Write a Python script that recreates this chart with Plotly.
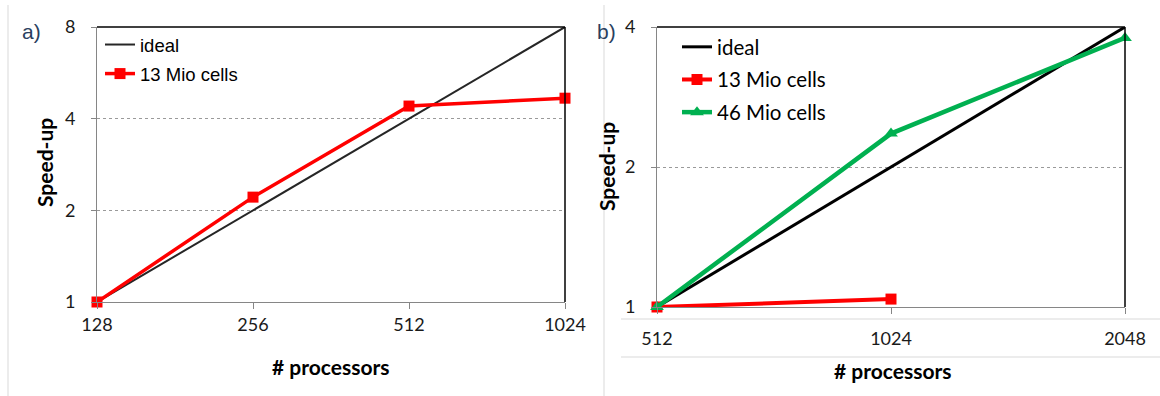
import math
import plotly.graph_objects as go

# ---- data -------------------------------------------------------------
procs_a = [128, 256, 512, 1024]
ideal_a = [1, 2, 4, 8]
mio13_a = [1, 2.21, 4.40, 4.67]

procs_b = [512, 1024, 2048]
ideal_b = [1, 2, 4]
mio13_procs_b = [512, 1024]
mio13_b = [1, 1.04]
mio46_b = [1, 2.36, 3.79]

ticks_a = [128, 256, 512, 1024]
ticks_b = [512, 1024, 2048]
yticks_a = [1, 2, 4, 8]
yticks_b = [1, 2, 4]

W, H = 1160, 396
RED = "#ff0000"
GREEN = "#00b050"
AXIS_GRAY = "#868686"
FRAME_GRAY = "#d9d9d9"
TICK_FONT = dict(family="Lato", size=18, color="#1a1a1a")
TITLE_FONT = dict(family="Lato", size=21, color="#000000")
EPS = 1e-7  # tiny range padding so edge points are not dropped


def px_x(v):
    return v / W


def px_y(v):
    return 1 - v / H


def log_range(lo, hi):
    return [math.log10(lo) - EPS, math.log10(hi) + EPS]


fig = go.Figure()

# panel a
fig.add_trace(go.Scatter(x=procs_a, y=ideal_a, name="ideal", mode="lines",
                         line=dict(color="#262626", width=2), cliponaxis=False,
                         xaxis="x", yaxis="y", legend="legend", legendgroup="a1"))
fig.add_trace(go.Scatter(x=procs_a, y=mio13_a, name="13 Mio cells", mode="lines+markers",
                         line=dict(color=RED, width=3.5), cliponaxis=False,
                         marker=dict(symbol="square", size=11, color=RED),
                         xaxis="x", yaxis="y", legend="legend", legendgroup="a2"))

# panel b
fig.add_trace(go.Scatter(x=procs_b, y=ideal_b, name="ideal", mode="lines",
                         line=dict(color="#000000", width=3), cliponaxis=False,
                         xaxis="x2", yaxis="y2", legend="legend2", legendgroup="b1"))
fig.add_trace(go.Scatter(x=mio13_procs_b, y=mio13_b, name="13 Mio cells", mode="lines+markers",
                         line=dict(color=RED, width=4), cliponaxis=False,
                         marker=dict(symbol="square", size=11, color=RED),
                         xaxis="x2", yaxis="y2", legend="legend2", legendgroup="b2"))
fig.add_trace(go.Scatter(x=procs_b, y=mio46_b, name="46 Mio cells", mode="lines+markers",
                         line=dict(color=GREEN, width=4.5), cliponaxis=False,
                         marker=dict(symbol="triangle-up", size=12, color=GREEN),
                         xaxis="x2", yaxis="y2", legend="legend2", legendgroup="b3"))

common_x = dict(type="log", showline=True, linecolor=AXIS_GRAY, linewidth=1,
                ticks="outside", ticklen=6, tickcolor=AXIS_GRAY, showgrid=False,
                tickfont=TICK_FONT, zeroline=False, fixedrange=True, automargin=False)
common_y = dict(type="log", showline=True, linecolor=AXIS_GRAY, linewidth=1,
                ticks="outside", ticklen=5, tickcolor=AXIS_GRAY,
                showgrid=True, gridcolor="#9a9a9a", gridwidth=1, griddash="dot",
                tickfont=TICK_FONT, zeroline=False, fixedrange=True,
                ticklabelstandoff=12, automargin=False)

fig.update_layout(
    width=W, height=H,
    margin=dict(l=0, r=0, t=0, b=0, autoexpand=False),
    paper_bgcolor="white", plot_bgcolor="white",
    showlegend=True,
    xaxis=dict(common_x, domain=[px_x(97), px_x(565)],
               range=log_range(128, 1024),
               tickvals=ticks_a, ticktext=[str(t) for t in ticks_a],
               anchor="y", ticklabelstandoff=0),
    yaxis=dict(common_y, domain=[px_y(302), px_y(27)],
               range=log_range(1, 8),
               tickvals=yticks_a, ticktext=[str(t) for t in yticks_a],
               anchor="x"),
    xaxis2=dict(common_x, domain=[px_x(657), px_x(1125)],
                range=log_range(512, 2048),
                tickvals=ticks_b, ticktext=[str(t) for t in ticks_b],
                anchor="y2", ticklabelstandoff=9),
    yaxis2=dict(common_y, domain=[px_y(307), px_y(27)],
                range=log_range(1, 4),
                tickvals=yticks_b, ticktext=[str(t) for t in yticks_b],
                anchor="x2"),
    legend=dict(x=px_x(100), y=px_y(26), xanchor="left", yanchor="top",
                bgcolor="rgba(0,0,0,0)", borderwidth=0,
                font=dict(family="Liberation Sans", size=18.5, color="#000000"),
                tracegroupgap=2, itemwidth=30),
    legend2=dict(x=px_x(677), y=px_y(27), xanchor="left", yanchor="top",
                 bgcolor="rgba(0,0,0,0)", borderwidth=0,
                 font=dict(family="Lato", size=20.5, color="#000000"),
                 tracegroupgap=3, itemwidth=30),
)

shapes = []
# black top and right edges of each plot area
for xr, yr in (("x domain", "y domain"), ("x2 domain", "y2 domain")):
    shapes.append(dict(type="line", xref=xr, yref=yr, x0=0, x1=1, y0=1, y1=1,
                       line=dict(color="#000000", width=1.5)))
    shapes.append(dict(type="line", xref=xr, yref=yr, x0=1, x1=1, y0=0, y1=1,
                       line=dict(color="#000000", width=1.5)))
# light frame lines around the panels
frame = [
    (8, 5, 8, H),
    (604, 5, 604, H),
    (621, 319, W, 319),
    (621, 357, W, 357),
]
for x0, y0, x1, y1 in frame:
    shapes.append(dict(type="line", xref="paper", yref="paper",
                       x0=px_x(x0), x1=px_x(x1), y0=px_y(y0), y1=px_y(y1),
                       line=dict(color=FRAME_GRAY, width=1), layer="below"))
fig.update_layout(shapes=shapes)

annotations = [
    dict(text="a)", x=px_x(31), y=px_y(31), font=dict(family="Liberation Sans", size=21)),
    dict(text="b)", x=px_x(606), y=px_y(31), font=dict(family="Liberation Sans", size=21)),
    dict(text="<b>Speed-up</b>", x=px_x(45), y=px_y(163), textangle=-90, font=TITLE_FONT),
    dict(text="<b>Speed-up</b>", x=px_x(606), y=px_y(167), textangle=-90, font=TITLE_FONT),
    dict(text="<b># processors</b>", x=px_x(331), y=px_y(366), font=TITLE_FONT),
    dict(text="<b># processors</b>", x=px_x(893), y=px_y(370), font=TITLE_FONT),
]
for a in annotations:
    a.update(xref="paper", yref="paper", showarrow=False, xanchor="center", yanchor="middle")
fig.update_layout(annotations=annotations)

fig.write_html("out.html")
